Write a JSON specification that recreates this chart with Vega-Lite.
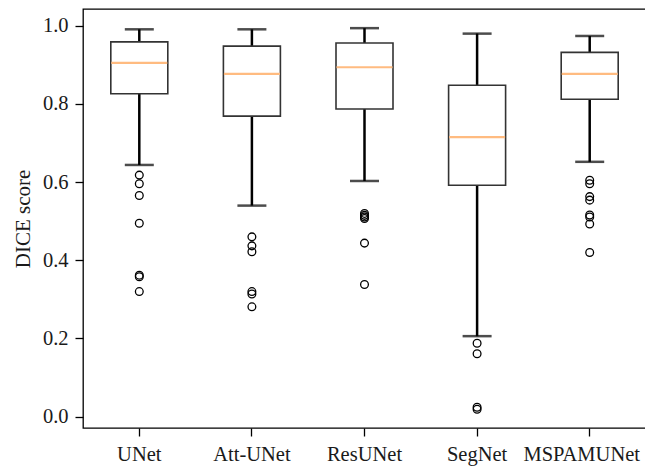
{
  "$schema": "https://vega.github.io/schema/vega-lite/v6.json",
  "width": 563,
  "height": 419,
  "autosize": {"type": "none"},
  "padding": {"left": 83, "top": 9, "right": 0, "bottom": 38},
  "background": "white",
  "config": {
    "view": {"stroke": "black", "strokeWidth": 1.3},
    "font": "Liberation Serif",
    "axis": {
      "labelFont": "Liberation Serif",
      "titleFont": "Liberation Serif",
      "labelColor": "#1a1a1a",
      "titleColor": "#1a1a1a",
      "tickColor": "black",
      "tickWidth": 1.3,
      "tickSize": 8,
      "domain": false,
      "grid": false
    }
  },
  "datasets": {
    "stats": [
      {"model": "UNet", "wlo": 0.644, "q1": 0.826, "med": 0.905, "q3": 0.959, "whi": 0.991},
      {"model": "Att-UNet", "wlo": 0.540, "q1": 0.769, "med": 0.877, "q3": 0.948, "whi": 0.991},
      {"model": "ResUNet", "wlo": 0.603, "q1": 0.787, "med": 0.894, "q3": 0.956, "whi": 0.994},
      {"model": "SegNet", "wlo": 0.206, "q1": 0.592, "med": 0.715, "q3": 0.848, "whi": 0.980},
      {"model": "MSPAMUNet", "wlo": 0.652, "q1": 0.812, "med": 0.877, "q3": 0.932, "whi": 0.974}
    ],
    "outliers": [
      {"model": "UNet", "value": 0.618},
      {"model": "UNet", "value": 0.596},
      {"model": "UNet", "value": 0.566},
      {"model": "UNet", "value": 0.495},
      {"model": "UNet", "value": 0.362},
      {"model": "UNet", "value": 0.358},
      {"model": "UNet", "value": 0.320},
      {"model": "Att-UNet", "value": 0.460},
      {"model": "Att-UNet", "value": 0.437},
      {"model": "Att-UNet", "value": 0.422},
      {"model": "Att-UNet", "value": 0.320},
      {"model": "Att-UNet", "value": 0.314},
      {"model": "Att-UNet", "value": 0.281},
      {"model": "ResUNet", "value": 0.520},
      {"model": "ResUNet", "value": 0.515},
      {"model": "ResUNet", "value": 0.511},
      {"model": "ResUNet", "value": 0.507},
      {"model": "ResUNet", "value": 0.444},
      {"model": "ResUNet", "value": 0.338},
      {"model": "SegNet", "value": 0.188},
      {"model": "SegNet", "value": 0.161},
      {"model": "SegNet", "value": 0.024},
      {"model": "SegNet", "value": 0.019},
      {"model": "MSPAMUNet", "value": 0.605},
      {"model": "MSPAMUNet", "value": 0.596},
      {"model": "MSPAMUNet", "value": 0.563},
      {"model": "MSPAMUNet", "value": 0.554},
      {"model": "MSPAMUNet", "value": 0.516},
      {"model": "MSPAMUNet", "value": 0.511},
      {"model": "MSPAMUNet", "value": 0.493},
      {"model": "MSPAMUNet", "value": 0.420}
    ]
  },
  "encoding": {
    "x": {
      "field": "model",
      "type": "nominal",
      "sort": ["UNet", "Att-UNet", "ResUNet", "SegNet", "MSPAMUNet"],
      "scale": {"paddingInner": 0, "paddingOuter": 0},
      "axis": {
        "title": null,
        "labelAngle": 0,
        "labelFontSize": 20.5,
        "labelPadding": 8,
        "labelOffset": {"condition": {"test": "datum.value === 'MSPAMUNet'", "value": -8}, "value": 0}
      }
    }
  },
  "layer": [
    {
      "data": {"name": "stats"},
      "mark": {"type": "rule", "color": "black", "strokeWidth": 2.5},
      "encoding": {
        "y": {
          "field": "wlo",
          "type": "quantitative",
          "scale": {"domain": [-0.029, 1.043], "nice": false, "zero": false},
          "axis": {
            "title": "DICE score",
            "values": [0, 0.2, 0.4, 0.6, 0.8, 1.0],
            "format": ".1f",
            "labelFontSize": 20.5,
            "titleFontSize": 21,
            "titleFontWeight": "normal",
            "labelPadding": 7,
            "titlePadding": 9
          }
        },
        "y2": {"field": "whi"}
      }
    },
    {
      "data": {"name": "stats"},
      "mark": {"type": "tick", "color": "black", "size": 29, "thickness": 2.5},
      "encoding": {"y": {"field": "whi", "type": "quantitative"}}
    },
    {
      "data": {"name": "stats"},
      "mark": {"type": "tick", "color": "black", "size": 29, "thickness": 2.5},
      "encoding": {"y": {"field": "wlo", "type": "quantitative"}}
    },
    {
      "data": {"name": "stats"},
      "mark": {"type": "bar", "size": 57, "fill": "white", "stroke": "#333", "strokeWidth": 1.6},
      "encoding": {
        "y": {"field": "q1", "type": "quantitative"},
        "y2": {"field": "q3"}
      }
    },
    {
      "data": {"name": "stats"},
      "mark": {"type": "tick", "color": "#ffbb80", "size": 56, "thickness": 2.2, "opacity": 1},
      "encoding": {"y": {"field": "med", "type": "quantitative"}}
    },
    {
      "data": {"name": "outliers"},
      "mark": {"type": "point", "shape": "circle", "filled": false, "stroke": "black", "strokeWidth": 1.3, "size": 60, "opacity": 1},
      "encoding": {"y": {"field": "value", "type": "quantitative"}}
    }
  ]
}
